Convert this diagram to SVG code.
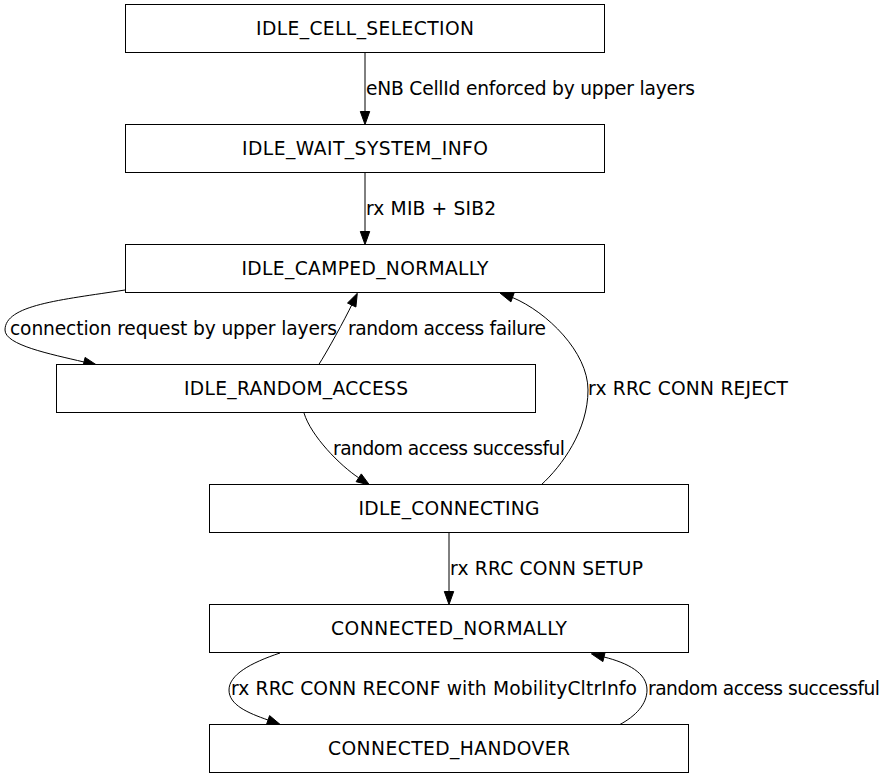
<svg xmlns="http://www.w3.org/2000/svg" width="884" height="779" viewBox="0 0 884 779">
<style>
.node rect{fill:#fff;stroke:#000;stroke-width:1}
text{font-family:"DejaVu Sans","Liberation Sans",sans-serif;font-size:18.67px;fill:#000}
.node text{text-anchor:middle}
.edges path{fill:none;stroke:#000;stroke-width:1}
.edges polygon{fill:#000;stroke:#000;stroke-width:1}
</style>
<rect width="884" height="779" fill="#fff"/>
<g class="edges" id="edges">
<g id="e1"><path d="M365,52.5 L365,111.5"/><polygon points="360.3,111.5 369.7,111.5 365,124.5"/><text x="366" y="94.5" textLength="329">eNB CellId enforced by upper layers</text></g>
<g id="e2"><path d="M365,172.5 L365,231.5"/><polygon points="360.3,231.5 369.7,231.5 365,244.5"/><text x="366" y="214.5" textLength="130">rx MIB + SIB2</text></g>
<g id="e3"><path d="M125,290 C60,300 5,305 5,330 C5,345 50,354 84,362"/><polygon points="85.1,357.4 96.6,365 82.9,366.6"/><text x="10" y="334.5" textLength="327">connection request by upper layers</text></g>
<g id="e4"><path d="M318.5,365 C327,352 345.2,318.5 351.7,305"/><polygon points="347.5,303 357.3,293.3 355.9,307"/><text x="348" y="334.5" textLength="198">random access failure</text></g>
<g id="e5"><path d="M304,413 C311,436 340,465.5 358.7,477.8"/><polygon points="361.3,473.9 369.5,485 356.1,481.7"/><text x="333" y="454.5" textLength="232">random access successful</text></g>
<g id="e6"><path d="M541,485 C562,466 588,430 588,390 C588,352 547,312 512.5,297.5"/><polygon points="514.1,293.1 500,293 510.9,301.9"/><text x="588" y="394.5" textLength="200">rx RRC CONN REJECT</text></g>
<g id="e7"><path d="M449,532.5 L449,591.5"/><polygon points="444.3,591.5 453.7,591.5 449,604.5"/><text x="450" y="574.5" textLength="193">rx RRC CONN SETUP</text></g>
<g id="e8"><path d="M280,653 C250,663 229,675 229,690 C229,705 248,713 268,720"/><polygon points="269.6,715.6 280.3,724.6 266.5,724.4"/><text x="231" y="694.5" textLength="406">rx RRC CONN RECONF with MobilityCltrInfo</text></g>
<g id="e9"><path d="M619,725 C636,716 647,704 647,690 C647,673 628,663 604,657"/><polygon points="605.1,652.4 591.4,653.8 602.9,661.6"/><text x="648" y="694.5" textLength="232">random access successful</text></g>
</g>
<g class="node" id="IDLE_CELL_SELECTION"><rect x="125.5" y="4.5" width="479" height="48"/><text x="365" y="34.5" textLength="218">IDLE_CELL_SELECTION</text></g>
<g class="node" id="IDLE_WAIT_SYSTEM_INFO"><rect x="125.5" y="124.5" width="479" height="48"/><text x="365" y="154.5" textLength="246">IDLE_WAIT_SYSTEM_INFO</text></g>
<g class="node" id="IDLE_CAMPED_NORMALLY"><rect x="125.5" y="244.5" width="479" height="48"/><text x="365" y="274.5" textLength="247">IDLE_CAMPED_NORMALLY</text></g>
<g class="node" id="IDLE_RANDOM_ACCESS"><rect x="56.5" y="364.5" width="479" height="48"/><text x="296" y="394.5" textLength="224">IDLE_RANDOM_ACCESS</text></g>
<g class="node" id="IDLE_CONNECTING"><rect x="209.5" y="484.5" width="479" height="48"/><text x="449" y="514.5" textLength="181">IDLE_CONNECTING</text></g>
<g class="node" id="CONNECTED_NORMALLY"><rect x="209.5" y="604.5" width="479" height="48"/><text x="449" y="634.5" textLength="236">CONNECTED_NORMALLY</text></g>
<g class="node" id="CONNECTED_HANDOVER"><rect x="209.5" y="724.5" width="479" height="48"/><text x="449" y="754.5" textLength="242">CONNECTED_HANDOVER</text></g>
</svg>
